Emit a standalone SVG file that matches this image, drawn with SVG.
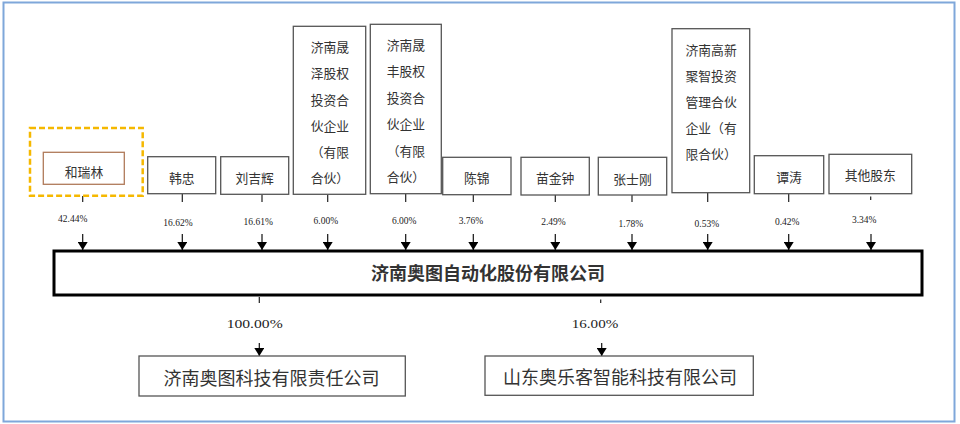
<svg xmlns="http://www.w3.org/2000/svg" width="960" height="424" viewBox="0 0 960 424">
<style>
.bx{fill:#fff;stroke:#555;stroke-width:1.3}
.t{font-family:"Noto Sans CJK SC","Liberation Sans",sans-serif;font-size:12.8px;fill:#333;text-anchor:middle;dominant-baseline:central}
.tl{font-family:"Noto Sans CJK SC","Liberation Sans",sans-serif;font-size:12.8px;fill:#333;dominant-baseline:central}
.p{font-family:"Liberation Serif",serif;font-size:9.5px;fill:#222;text-anchor:middle;dominant-baseline:central}
.pb{font-family:"Liberation Serif",serif;font-size:13px;fill:#222;text-anchor:middle;dominant-baseline:central}
.big{font-family:"Noto Sans CJK SC","Liberation Sans",sans-serif;font-size:18px;fill:#333;text-anchor:middle;dominant-baseline:central}
.ln{stroke:#222;stroke-width:1.2;fill:none}
.ar{stroke:#111;stroke-width:1.2;fill:none;marker-end:url(#arr)}
</style>
<defs>
<marker id="arr" viewBox="0 0 8 10" refX="8" refY="5" markerWidth="8" markerHeight="10" markerUnits="userSpaceOnUse" orient="auto">
<path d="M0,0 L8,5 L0,10 Z" fill="#000"/>
</marker>
</defs>
<rect x="3.5" y="2.5" width="951" height="419" fill="#fff" stroke="#7fa7da" stroke-width="2"/>

<g id="connectors">
<path class="ln" d="M82.7,196 V202 M182.3,194 V202 M262,194.5 V202 M327.7,194.5 V202 M405.7,194 V202 M473.3,195 V202 M555.3,195 V202 M632,195 V202 M707.7,193 V202 M788.7,194 V202 M870.7,196.5 V200"/>
<path class="ar" d="M82.7,234 V250"/>
<path class="ar" d="M182.3,234 V250"/>
<path class="ar" d="M262,234 V250"/>
<path class="ar" d="M327.7,234 V250"/>
<path class="ar" d="M405.7,234 V250"/>
<path class="ar" d="M473.3,234 V250"/>
<path class="ar" d="M555.3,234 V250"/>
<path class="ar" d="M632,234 V250"/>
<path class="ar" d="M707.7,234 V250"/>
<path class="ar" d="M788.7,234 V250"/>
<path class="ar" d="M871,234 V250"/>
<path class="ln" d="M259.3,297 V303 M600.7,299.5 V303"/>
<path class="ar" d="M259.3,343 V356"/>
<path class="ar" d="M601.7,343 V356"/>
<text class="p" x="72.7" y="219">42.44%</text>
<text class="p" x="178" y="223.3">16.62%</text>
<text class="p" x="258.2" y="221.7">16.61%</text>
<text class="p" x="325.8" y="220.7">6.00%</text>
<text class="p" x="404.2" y="220.7">6.00%</text>
<text class="p" x="471" y="220.5">3.76%</text>
<text class="p" x="553.5" y="221.7">2.49%</text>
<text class="p" x="630.8" y="223.7">1.78%</text>
<text class="p" x="706.8" y="224">0.53%</text>
<text class="p" x="787.2" y="221.7">0.42%</text>
<text class="p" x="864.2" y="220">3.34%</text>
<text class="pb" x="254.7" y="323.3" textLength="56" lengthAdjust="spacingAndGlyphs">100.00%</text>
<text class="pb" x="595" y="323.3" textLength="46.5" lengthAdjust="spacingAndGlyphs">16.00%</text>
</g>

<g id="n-herulin">
<rect x="30" y="128" width="112.7" height="67.7" fill="none" stroke="#f5b800" stroke-width="2.5" stroke-dasharray="6 3"/>
<rect x="43.3" y="152.3" width="81" height="32" fill="#fff" stroke="#b07a5a" stroke-width="1.3"/>
<text class="t" x="84" y="171.5">和瑞林</text>
</g>
<g id="n-hanzhong">
<rect class="bx" x="147.7" y="156.7" width="68" height="37"/>
<text class="t" x="181.7" y="177">韩忠</text>
</g>
<g id="n-liujihui">
<rect class="bx" x="220.7" y="156.7" width="68" height="37.6"/>
<text class="t" x="254.7" y="177.3">刘吉辉</text>
</g>
<g id="n-shengze">
<rect class="bx" x="293.3" y="26.3" width="72.4" height="168"/>
<text class="tl" x="310.7" y="46.7">济南晟</text>
<text class="tl" x="310.7" y="72.9">泽股权</text>
<text class="tl" x="310.7" y="99.2">投资合</text>
<text class="tl" x="310.7" y="125.4">伙企业</text>
<text class="tl" x="310.7" y="151.6">（有限</text>
<text class="tl" x="310.7" y="177.8">合伙）</text>
</g>
<g id="n-shengfeng">
<rect class="bx" x="370.3" y="24.3" width="71" height="169.4"/>
<text class="tl" x="386.7" y="44.3">济南晟</text>
<text class="tl" x="386.7" y="70.8">丰股权</text>
<text class="tl" x="386.7" y="97.3">投资合</text>
<text class="tl" x="386.7" y="123.8">伙企业</text>
<text class="tl" x="386.7" y="150.3">（有限</text>
<text class="tl" x="386.7" y="176.8">合伙）</text>
</g>
<g id="n-chenjin">
<rect class="bx" x="442.7" y="157.3" width="68.3" height="37.4"/>
<text class="t" x="476.8" y="177.7">陈锦</text>
</g>
<g id="n-miaojinzhong">
<rect class="bx" x="521" y="157.3" width="68.3" height="37.7"/>
<text class="t" x="555.2" y="177.7">苗金钟</text>
</g>
<g id="n-zhangshigang">
<rect class="bx" x="598.3" y="157.3" width="68.4" height="37.7"/>
<text class="t" x="632.5" y="178">张士刚</text>
</g>
<g id="n-juzhi">
<rect class="bx" x="672" y="28.7" width="77.7" height="164"/>
<text class="tl" x="685.5" y="49">济南高新</text>
<text class="tl" x="685.5" y="75.3">聚智投资</text>
<text class="tl" x="685.5" y="101.3">管理合伙</text>
<text class="tl" x="685.5" y="127.5">企业（有</text>
<text class="tl" x="685.5" y="153.5">限合伙）</text>
</g>
<g id="n-tantao">
<rect class="bx" x="754.3" y="155.7" width="69.4" height="38"/>
<text class="t" x="789" y="176">谭涛</text>
</g>
<g id="n-others">
<rect class="bx" x="829" y="154.3" width="82.7" height="39.4"/>
<text class="t" x="870.3" y="174">其他股东</text>
</g>
<g id="n-aotu">
<rect x="54" y="251" width="868" height="44" fill="#fff" stroke="#000" stroke-width="3"/>
<text class="big" x="488" y="272" font-weight="bold">济南奥图自动化股份有限公司</text>
</g>
<g id="n-aotukeji">
<rect class="bx" x="139" y="356" width="266.3" height="40"/>
<text class="big" x="271.5" y="376.5">济南奥图科技有限责任公司</text>
</g>
<g id="n-aoleke">
<rect class="bx" x="485" y="356" width="268.3" height="39.3"/>
<text class="big" x="620" y="376">山东奥乐客智能科技有限公司</text>
</g>
</svg>
